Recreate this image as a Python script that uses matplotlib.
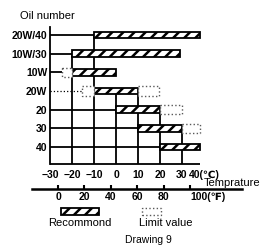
import matplotlib
matplotlib.use('Agg')
from matplotlib import pyplot as plt
from matplotlib.patches import Rectangle

# Oil grade vs. ambient temperature
oils = ['20W/40', '10W/30', '10W', '20W', '20', '30', '40']
rec_lo = [-10, -20, -20, -10, 0, 10, 20]      # recommended range, deg C
rec_hi = [38, 29, 0, 10, 20, 30, 38]
lim_lo = [None, None, -24.5, -15.5, None, None, None]   # limit value below
lim_hi = [None, None, None, 19.5, 30, 38, None]         # limit value above
row_style = ['-', '-', '-', ':', '-', '-', '-']

celsius = [-30, -20, -10, 0, 10, 20, 30, 40]
c_labels = ['−30', '−20', '−10', '0', '10', '20', '30', '40(℃)']
fahrenheit = [0, 20, 40, 60, 80, 100]
f_labels = ['0', '20', '40', '60', '80', '100(℉)']

grid_x = [-20, -10, 0, 10, 20, 30]
grid_top = [1, 0, 3, 3, 4, 5]

plt.rcParams['font.family'] = ['Liberation Sans', 'DejaVu Sans']
plt.rcParams['hatch.linewidth'] = 1.8

W, H = 265, 247
fig = plt.figure(figsize=(W / 100, H / 100), dpi=100)


def box(x0, y0, x1, y1):
    # pixel box -> figure fraction [left, bottom, width, height]
    return [x0 / W, 1 - y1 / H, (x1 - x0) / W, (y1 - y0) / H]


ax = fig.add_axes(box(50, 27, 204, 164))
bottom = 6.91
ax.set_xlim(-30, 40)
ax.set_ylim(bottom, -0.43)
for s in ['top', 'right', 'bottom']:
    ax.spines[s].set_visible(False)
ax.spines['left'].set_linewidth(1.3)
ax.patch.set_visible(False)

ax.hlines(bottom, -30, 38, color='black', lw=1.3, clip_on=False)
ax.vlines(grid_x, grid_top, bottom, color='black', lw=1.3)

for i, oil in enumerate(oils):
    end = lim_lo[i] if lim_lo[i] is not None else rec_lo[i]
    ax.hlines(i, -30, end, color='black',
              lw=1.3 if row_style[i] == '-' else 0.9, linestyle=row_style[i])
    ax.barh(i, rec_hi[i] - rec_lo[i], left=rec_lo[i], height=0.37,
            color='white', edgecolor='black', hatch='///', lw=1.3, zorder=3)
    for lo, hi in [(lim_lo[i], rec_lo[i]), (rec_hi[i], lim_hi[i])]:
        if lo is not None and hi is not None and hi > lo:
            ax.barh(i, hi - lo, left=lo, height=0.5, facecolor='white',
                    edgecolor='0.35', linestyle=':', lw=1.0, zorder=3)

ax.set_yticks(range(len(oils)), oils, fontweight='bold', fontsize=7.5)
ax.tick_params(axis='y', length=0, pad=2)
ax.set_xticks(celsius, c_labels, fontweight='bold', fontsize=7.5)
ax.tick_params(axis='x', length=0, pad=4)

# Fahrenheit scale
ax2 = fig.add_axes(box(32, 180, 242, 189))
ax2.set_xlim(-19.7, 139.4)
ax2.set_yticks([])
ax2.patch.set_visible(False)
for s in ['top', 'right', 'left']:
    ax2.spines[s].set_visible(False)
ax2.spines['bottom'].set_linewidth(1.8)
ax2.set_xticks(fahrenheit, f_labels, fontweight='bold', fontsize=7.5)
ax2.tick_params(axis='x', direction='in', length=3, width=1.5, pad=2.5)
ax2.get_xticklabels()[-1].set_horizontalalignment('left')

fig.text(20 / W, 1 - 16 / H, 'Oil number', ha='left', va='center', fontsize=8)
fig.text(260 / W, 1 - 183 / H, 'Temprature', ha='right', va='center', fontsize=8)

# legend
b = box(61, 208, 99, 215)
fig.add_artist(Rectangle((b[0], b[1]), b[2], b[3], transform=fig.transFigure,
                         facecolor='white', edgecolor='black', hatch='///', lw=1.3))
b = box(142, 208, 161, 215)
fig.add_artist(Rectangle((b[0], b[1]), b[2], b[3], transform=fig.transFigure,
                         facecolor='white', edgecolor='0.35', linestyle=':', lw=1.0))
fig.text(80 / W, 1 - 223 / H, 'Recommond', ha='center', va='center', fontsize=8)
fig.text(166 / W, 1 - 223 / H, 'Limit value', ha='center', va='center', fontsize=8)
fig.text(148 / W, 1 - 240 / H, 'Drawing 9', ha='center', va='center', fontsize=7.5)

fig.savefig('out.png', dpi=100)
